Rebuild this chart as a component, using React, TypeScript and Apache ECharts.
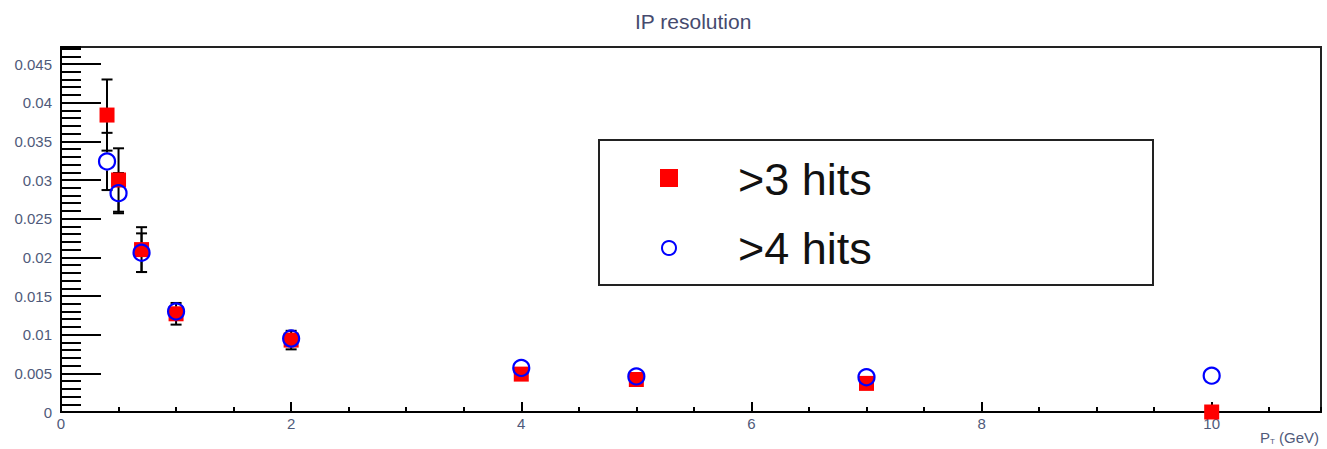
import React, { useEffect, useRef } from "react";
import * as echarts from "echarts";

// ---- data ----
const chartTitle = "IP resolution";
const xAxisName = "P{sub|T} (GeV)";
const seriesNames = [">3 hits", ">4 hits"];
const ptValues = [0.4, 0.5, 0.7, 1, 2, 4, 5, 7, 10];
const hits3Values = [0.0384, 0.03, 0.021, 0.0127, 0.0093, 0.0049, 0.0042, 0.0037, 0.0];
const hits3Errors = [0.0046, 0.0041, 0.0029, 0.0014, 0.0012, 0.0004, 0.0003, 0.0003, 0.0003];
const hits4Values = [0.0324, 0.0283, 0.0206, 0.013, 0.0095, 0.0057, 0.0046, 0.0045, 0.0047];
const hits4Errors = [0.0037, 0.0026, 0.0025, 0.0011, 0.0011, 0.0004, 0.0003, 0.0003, 0.0003];
const xRange = [0, 10.95];
const yRange = [0, 0.0472];
const xMajorStep = 2;
const xMinorStep = 0.5;
const yMajorStep = 0.005;
const yMinorStep = 0.001;

const labelColor = "#4f5a7a";
const font = "'Liberation Sans', Arial, sans-serif";

function errorSeries(values: number[], errors: number[], gap: number) {
  return {
    type: "custom",
    xAxisIndex: 0,
    yAxisIndex: 0,
    silent: true,
    data: ptValues.map((x, i) => [x, values[i] - errors[i], values[i] + errors[i], values[i]]),
    encode: { x: 0, y: [1, 2] },
    renderItem: (params: any, api: any) => {
      const x = api.value(0);
      const lo = api.coord([x, api.value(1)]);
      const hi = api.coord([x, api.value(2)]);
      const c = api.coord([x, api.value(3)]);
      const style = { stroke: "#000", lineWidth: 2 };
      const cap = 5.5;
      const children: any[] = [];
      if (c[1] - hi[1] > gap) {
        children.push({ type: "line", shape: { x1: c[0], y1: hi[1], x2: c[0], y2: c[1] - gap }, style });
        children.push({ type: "line", shape: { x1: c[0] - cap, y1: hi[1], x2: c[0] + cap, y2: hi[1] }, style });
      }
      if (lo[1] - c[1] > gap) {
        children.push({ type: "line", shape: { x1: c[0], y1: c[1] + gap, x2: c[0], y2: lo[1] }, style });
        children.push({ type: "line", shape: { x1: c[0] - cap, y1: lo[1], x2: c[0] + cap, y2: lo[1] }, style });
      }
      return { type: "group", children };
    },
  };
}

export default function App() {
  const ref = useRef<HTMLDivElement>(null);
  useEffect(() => {
    if (!ref.current) return;
    const chart = echarts.init(ref.current, undefined, { renderer: "svg" });
    const lx = 598;
    const ly = 139;
    chart.setOption({
      animation: false,
      title: {
        text: chartTitle,
        left: 630,
        top: 6,
        textStyle: { fontSize: 21, fontWeight: "normal", color: "#464a6e", fontFamily: font },
      },
      grid: {
        left: 61,
        right: 6,
        top: 47,
        bottom: 37,
        show: true,
        borderColor: "#222",
        borderWidth: 2,
        backgroundColor: "#fff",
        containLabel: false,
        outerBoundsMode: "none",
      },
      xAxis: [
        {
          type: "value",
          min: xRange[0],
          max: xRange[1],
          interval: xMajorStep,
          position: "bottom",
          name: xAxisName,
          nameLocation: "end",
          nameGap: 0,
          nameTextStyle: {
            align: "right",
            verticalAlign: "top",
            padding: [17, 2, 0, 0],
            fontSize: 15,
            color: labelColor,
            fontFamily: font,
            rich: {
              sub: { fontSize: 8, color: labelColor, fontFamily: font, padding: [8, 0, 0, 0] },
            },
          },
          axisLine: { show: true, lineStyle: { color: "#000", width: 2 } },
          axisTick: { show: true, inside: true, length: 10, lineStyle: { color: "#000", width: 2 } },
          axisLabel: { show: true, margin: 4, fontSize: 15, color: labelColor, fontFamily: font, showMaxLabel: false },
          splitLine: { show: false },
        },
        {
          type: "value",
          min: xRange[0],
          max: xRange[1],
          interval: xMinorStep,
          position: "bottom",
          axisLine: { show: false },
          axisTick: { show: true, inside: true, length: 5, lineStyle: { color: "#000", width: 2 } },
          axisLabel: { show: false },
          splitLine: { show: false },
        },
      ],
      yAxis: [
        {
          type: "value",
          min: yRange[0],
          max: yRange[1],
          interval: yMajorStep,
          position: "left",
          axisLine: { show: true, lineStyle: { color: "#000", width: 2 } },
          axisTick: { show: true, inside: true, length: 40, lineStyle: { color: "#000", width: 2 } },
          axisLabel: { show: true, margin: 9, fontSize: 15, color: labelColor, fontFamily: font, showMaxLabel: false },
          splitLine: { show: false },
        },
        {
          type: "value",
          min: yRange[0],
          max: yRange[1],
          interval: yMinorStep,
          position: "left",
          axisLine: { show: false },
          axisTick: { show: true, inside: true, length: 20, lineStyle: { color: "#000", width: 2 } },
          axisLabel: { show: false },
          splitLine: { show: false },
        },
      ],
      series: [
        errorSeries(hits3Values, hits3Errors, 7),
        {
          name: seriesNames[0],
          type: "scatter",
          xAxisIndex: 0,
          yAxisIndex: 0,
          symbol: "rect",
          symbolSize: 15,
          itemStyle: { color: "#ff0000", opacity: 1 },
          data: ptValues.map((x, i) => [x, hits3Values[i]]),
        },
        errorSeries(hits4Values, hits4Errors, 9),
        {
          name: seriesNames[1],
          type: "scatter",
          xAxisIndex: 0,
          yAxisIndex: 0,
          symbol: "circle",
          symbolSize: 16,
          itemStyle: { color: "rgba(0,0,0,0)", borderColor: "#0000ff", borderWidth: 2.2, opacity: 1 },
          data: ptValues.map((x, i) => [x, hits4Values[i]]),
        },
      ],
      graphic: [
        {
          type: "group",
          left: lx,
          top: ly,
          children: [
            { type: "rect", shape: { x: 0, y: 0, width: 554, height: 145 }, style: { fill: "#fff", stroke: "#222", lineWidth: 2 } },
            { type: "rect", shape: { x: 61, y: 29, width: 18, height: 18 }, style: { fill: "#ff0000" } },
            {
              type: "text",
              x: 139,
              y: 39,
              style: { text: seriesNames[0], fontSize: 45, fill: "#111", fontFamily: font, verticalAlign: "middle" },
            },
            { type: "circle", shape: { cx: 70, cy: 108, r: 7 }, style: { fill: "none", stroke: "#0000ff", lineWidth: 2 } },
            {
              type: "text",
              x: 139,
              y: 108,
              style: { text: seriesNames[1], fontSize: 45, fill: "#111", fontFamily: font, verticalAlign: "middle" },
            },
          ],
        },
      ],
    });
    return () => chart.dispose();
  }, []);
  return <div ref={ref} style={{ position: "absolute", left: 0, top: 0, width: 1327, height: 449 }} />;
}
